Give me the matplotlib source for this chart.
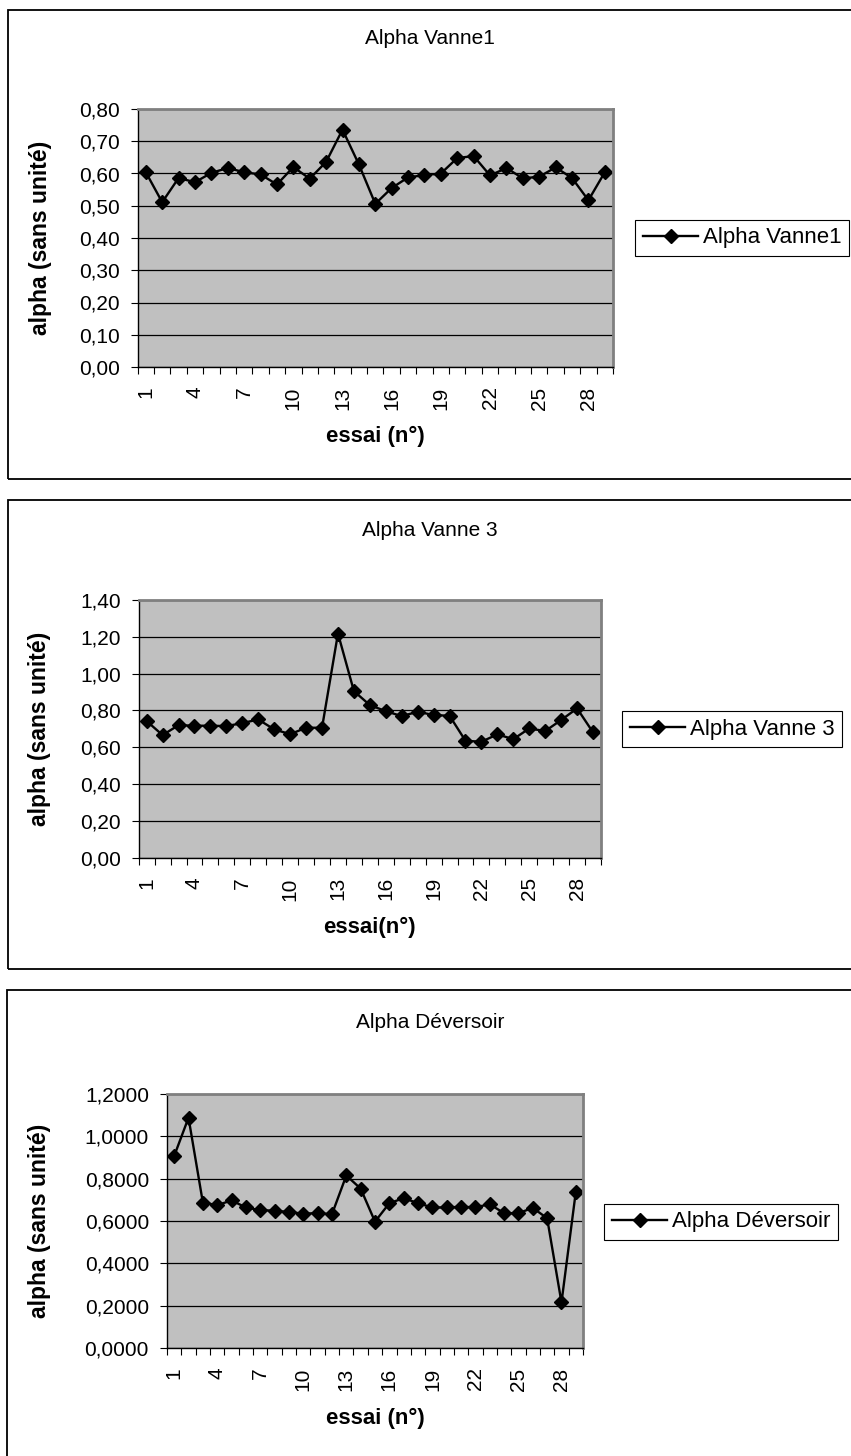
import matplotlib.pyplot as plt
from matplotlib.patches import Rectangle
from matplotlib.lines import Line2D
import matplotlib.ticker as mticker

plt.rcParams['font.family'] = ['Liberation Sans', 'DejaVu Sans']

#######################################
# Data
#######################################
essai = list(range(1, 30))
xtick_labels = [1, 4, 7, 10, 13, 16, 19, 22, 25, 28]

alpha_vanne1 = [0.604, 0.511, 0.586, 0.573, 0.602, 0.617, 0.604, 0.597, 0.566, 0.620,
                0.584, 0.636, 0.736, 0.628, 0.506, 0.555, 0.588, 0.595, 0.600, 0.648,
                0.654, 0.594, 0.617, 0.585, 0.590, 0.619, 0.586, 0.517, 0.604]

alpha_vanne3 = [0.742, 0.666, 0.720, 0.717, 0.717, 0.715, 0.731, 0.751, 0.697, 0.671,
                0.706, 0.706, 1.218, 0.905, 0.829, 0.796, 0.769, 0.793, 0.775, 0.771,
                0.635, 0.630, 0.670, 0.644, 0.702, 0.688, 0.748, 0.811, 0.681]

alpha_deversoir = [0.907, 1.088, 0.687, 0.675, 0.697, 0.664, 0.651, 0.649, 0.642, 0.635,
                   0.637, 0.632, 0.815, 0.753, 0.597, 0.684, 0.708, 0.684, 0.664, 0.664,
                   0.667, 0.665, 0.679, 0.637, 0.637, 0.662, 0.613, 0.215, 0.739]

#######################################
# Layout (pixels)
#######################################
W, H = 851, 1456
fig = plt.figure(figsize=(W / 100, H / 100), dpi=100)

panels = [
    dict(title="Alpha Vanne1", values=alpha_vanne1, xlabel="essai (n°)",
         ymax=0.8, ystep=0.1, decimals=2,
         frame=(8, 10, 900, 479), plot=(137.6, 109, 613, 367),
         title_y=38, xlabel_y=436, legend_xy=(635, 238)),
    dict(title="Alpha Vanne 3", values=alpha_vanne3, xlabel="essai(n°)",
         ymax=1.4, ystep=0.2, decimals=2,
         frame=(8, 500, 900, 969), plot=(138.7, 600, 601, 857.7),
         title_y=530, xlabel_y=927, legend_xy=(622, 729)),
    dict(title="Alpha Déversoir", values=alpha_deversoir, xlabel="essai (n°)",
         ymax=1.2, ystep=0.2, decimals=4,
         frame=(7, 990, 900, 1600), plot=(167, 1094, 583, 1348),
         title_y=1022, xlabel_y=1418, legend_xy=(604, 1222)),
]

for p in panels:
    # outer chart frame
    fx0, fy0, fx1, fy1 = p['frame']
    fig.patches.append(Rectangle((fx0 / W, 1 - fy1 / H), (fx1 - fx0) / W, (fy1 - fy0) / H,
                                 transform=fig.transFigure, fill=False,
                                 edgecolor='black', linewidth=1.3, clip_on=False))

    x0, y0, x1, y1 = p['plot']
    ax = fig.add_axes([x0 / W, 1 - y1 / H, (x1 - x0) / W, (y1 - y0) / H])
    ax.set_facecolor('#C0C0C0')

    ax.plot(essai, p['values'], color='black', linewidth=1.7,
            marker='D', markersize=7.5, markerfacecolor='black', markeredgecolor='black')

    ax.set_xlim(0.5, 29.5)
    ax.set_ylim(0, p['ymax'])

    nsteps = int(round(p['ymax'] / p['ystep']))
    yticks = [i * p['ystep'] for i in range(nsteps + 1)]
    ax.set_yticks(yticks)
    d = p['decimals']
    ax.yaxis.set_major_formatter(mticker.FuncFormatter(lambda v, _, d=d: f"{v:.{d}f}".replace('.', ',')))
    ax.grid(which='major', axis='y', color='black', linewidth=0.9)
    ax.set_axisbelow(True)

    # category axis: ticks between categories, labels every 3rd category
    ax.xaxis.set_major_locator(mticker.FixedLocator([i + 0.5 for i in range(0, 30)]))
    ax.xaxis.set_major_formatter(mticker.NullFormatter())
    ax.xaxis.set_minor_locator(mticker.FixedLocator(xtick_labels))
    ax.xaxis.set_minor_formatter(mticker.FixedFormatter([str(v) for v in xtick_labels]))
    ax.tick_params(axis='x', which='major', direction='out', length=5, width=0.8)
    ax.tick_params(axis='x', which='minor', length=0, pad=14, labelsize=15, labelrotation=90)
    ax.tick_params(axis='y', which='major', direction='out', length=5, width=0.8, pad=8, labelsize=15)

    for side in ['top', 'right']:
        ax.spines[side].set_color('#808080')
        ax.spines[side].set_linewidth(2)
    for side in ['left', 'bottom']:
        ax.spines[side].set_color('black')
        ax.spines[side].set_linewidth(1)

    # axis labels
    ax.set_xlabel(p['xlabel'], fontsize=16, fontweight='bold')
    ax.xaxis.set_label_coords(0.5, (y1 - p['xlabel_y']) / (y1 - y0))
    ax.xaxis.label.set_va('center')
    ax.set_ylabel("alpha (sans unité)", fontsize=16.5, fontweight='bold')
    ax.yaxis.set_label_coords((40 - x0) / (x1 - x0), 0.5)
    ax.yaxis.label.set_va('center')

    # chart title
    fig.text(430 / W, 1 - p['title_y'] / H, p['title'], fontsize=15,
             ha='center', va='center')

    # legend
    handle = Line2D([], [], color='black', linewidth=1.7, marker='D', markersize=7)
    lx, ly = p['legend_xy']
    leg = ax.legend([handle], [p['title']], loc='center left',
                    bbox_to_anchor=(lx / W, 1 - ly / H), bbox_transform=fig.transFigure,
                    frameon=True, fancybox=False, edgecolor='black', framealpha=1,
                    borderaxespad=0, borderpad=0.35, handlelength=2.5, handletextpad=0.2,
                    fontsize=16)
    leg.get_frame().set_linewidth(0.8)

plt.savefig("out.png", dpi=100)
plt.close()
